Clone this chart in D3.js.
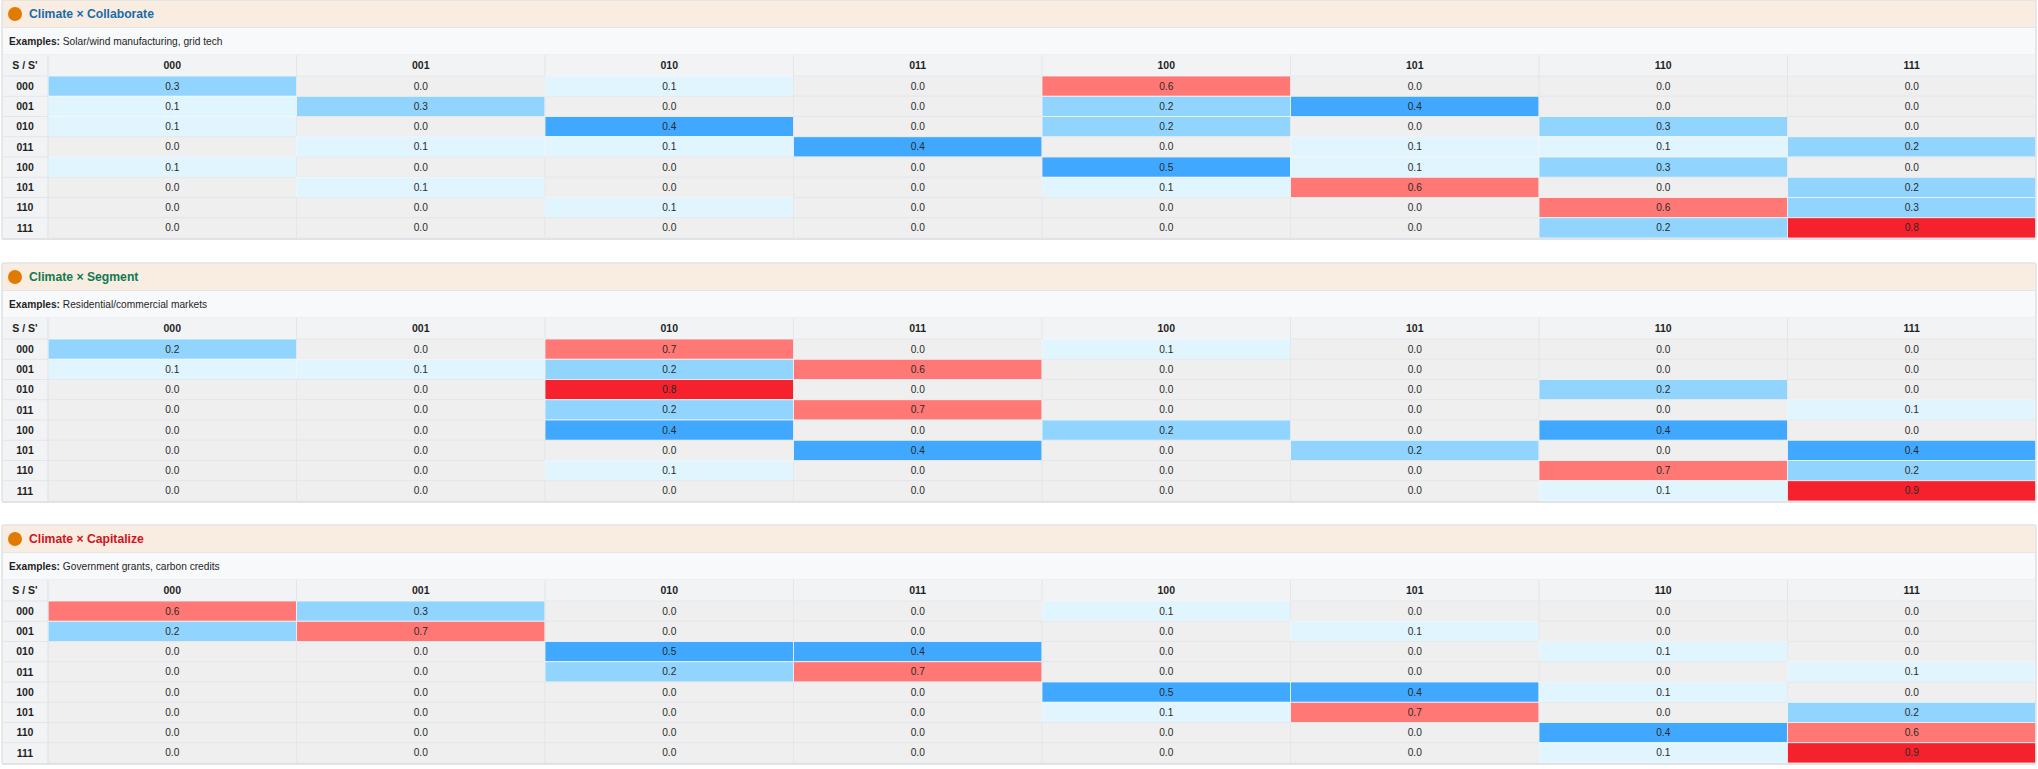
<!DOCTYPE html>
<html>
<head>
<meta charset="utf-8">
<script src="https://cdn.jsdelivr.net/npm/d3@7"></script>
<style>
  body { margin: 0; background: #fff; }
  svg { display: block; font-family: "Helvetica Neue", Helvetica, Arial, "Liberation Sans", sans-serif; }
</style>
</head>
<body>
<svg id="chart" width="2038" height="769"></svg>
<script>
// states (rows = S, columns = S')
const states = ["000", "001", "010", "011", "100", "101", "110", "111"];

const sectionTitles = ["Climate \u00d7 Collaborate", "Climate \u00d7 Segment", "Climate \u00d7 Capitalize"];
const titleColors = ["#1a6ca8", "#117a52", "#d3121c"];
const examples = ["Solar/wind manufacturing, grid tech", "Residential/commercial markets", "Government grants, carbon credits"];

const collaborate = [
  [0.3, 0.0, 0.1, 0.0, 0.6, 0.0, 0.0, 0.0],
  [0.1, 0.3, 0.0, 0.0, 0.2, 0.4, 0.0, 0.0],
  [0.1, 0.0, 0.4, 0.0, 0.2, 0.0, 0.3, 0.0],
  [0.0, 0.1, 0.1, 0.4, 0.0, 0.1, 0.1, 0.2],
  [0.1, 0.0, 0.0, 0.0, 0.5, 0.1, 0.3, 0.0],
  [0.0, 0.1, 0.0, 0.0, 0.1, 0.6, 0.0, 0.2],
  [0.0, 0.0, 0.1, 0.0, 0.0, 0.0, 0.6, 0.3],
  [0.0, 0.0, 0.0, 0.0, 0.0, 0.0, 0.2, 0.8]
];

const segment = [
  [0.2, 0.0, 0.7, 0.0, 0.1, 0.0, 0.0, 0.0],
  [0.1, 0.1, 0.2, 0.6, 0.0, 0.0, 0.0, 0.0],
  [0.0, 0.0, 0.8, 0.0, 0.0, 0.0, 0.2, 0.0],
  [0.0, 0.0, 0.2, 0.7, 0.0, 0.0, 0.0, 0.1],
  [0.0, 0.0, 0.4, 0.0, 0.2, 0.0, 0.4, 0.0],
  [0.0, 0.0, 0.0, 0.4, 0.0, 0.2, 0.0, 0.4],
  [0.0, 0.0, 0.1, 0.0, 0.0, 0.0, 0.7, 0.2],
  [0.0, 0.0, 0.0, 0.0, 0.0, 0.0, 0.1, 0.9]
];

const capitalize = [
  [0.6, 0.3, 0.0, 0.0, 0.1, 0.0, 0.0, 0.0],
  [0.2, 0.7, 0.0, 0.0, 0.0, 0.1, 0.0, 0.0],
  [0.0, 0.0, 0.5, 0.4, 0.0, 0.0, 0.1, 0.0],
  [0.0, 0.0, 0.2, 0.7, 0.0, 0.0, 0.0, 0.1],
  [0.0, 0.0, 0.0, 0.0, 0.5, 0.4, 0.1, 0.0],
  [0.0, 0.0, 0.0, 0.0, 0.1, 0.7, 0.0, 0.2],
  [0.0, 0.0, 0.0, 0.0, 0.0, 0.0, 0.4, 0.6],
  [0.0, 0.0, 0.0, 0.0, 0.0, 0.0, 0.1, 0.9]
];

const matrices = [collaborate, segment, capitalize];

// cell colour buckets
const color = d3.scaleThreshold()
  .domain([0.05, 0.15, 0.35, 0.55, 0.75])
  .range(["#efefef", "#e1f5fe", "#91d5ff", "#40a9ff", "#ff7875", "#f5222d"]);

const svg = d3.select("#chart");
const left = 2, right = 2036, labelW = 46;
const borderCol = "#e3e5e8";

const sectionY = d3.scaleBand().domain(d3.range(3)).range([0, 787.5]).paddingInner(0);
const x = d3.scaleBand().domain(states).range([left + labelW, right]);
const y = d3.scaleBand().domain(states).range([76, 238]);

matrices.forEach((m, i) => {
  const g = svg.append("g").attr("transform", `translate(0,${Math.round(sectionY(i))})`);

  // header band
  g.append("rect").attr("x", left).attr("y", 0).attr("width", right - left).attr("height", 27.5)
    .attr("fill", "#f9ede1");
  g.append("circle").attr("cx", 15).attr("cy", 14).attr("r", 7).attr("fill", "#e07b00");
  g.append("text").attr("x", 29).attr("y", 14).attr("dy", "0.35em")
    .attr("font-size", 12.2).attr("font-weight", "bold").attr("fill", titleColors[i])
    .text(sectionTitles[i]);

  // examples band
  g.append("rect").attr("x", left).attr("y", 27.5).attr("width", right - left).attr("height", 27.5)
    .attr("fill", "#f8f9fb").attr("stroke", borderCol);
  const ex = g.append("text").attr("x", 9).attr("y", 41.5).attr("dy", "0.35em")
    .attr("font-size", 10.2).attr("fill", "#1f1f1f");
  ex.append("tspan").attr("font-weight", "bold").text("Examples: ");
  ex.append("tspan").text(examples[i]);

  // table header row
  g.append("rect").attr("x", left).attr("y", 55).attr("width", right - left).attr("height", 21)
    .attr("fill", "#f2f3f5");
  g.append("rect").attr("x", left).attr("y", 76).attr("width", labelW).attr("height", 162)
    .attr("fill", "#f2f3f5");

  g.append("text").attr("x", left + labelW / 2).attr("y", 65.5).attr("dy", "0.35em")
    .attr("text-anchor", "middle").attr("font-size", 10.5).attr("font-weight", "bold").attr("fill", "#1f1f1f")
    .text("S / S'");

  g.selectAll(".colhead").data(states).join("text")
    .attr("x", d => x(d) + x.bandwidth() / 2).attr("y", 65.5).attr("dy", "0.35em")
    .attr("text-anchor", "middle").attr("font-size", 10.5).attr("font-weight", "bold").attr("fill", "#1f1f1f")
    .text(d => d);

  g.selectAll(".rowhead").data(states).join("text")
    .attr("x", left + labelW / 2).attr("y", d => y(d) + y.bandwidth() / 2).attr("dy", "0.35em")
    .attr("text-anchor", "middle").attr("font-size", 10.5).attr("font-weight", "bold").attr("fill", "#1f1f1f")
    .text(d => d);

  const cells = [];
  m.forEach((row, r) => row.forEach((v, c) => cells.push({ r: states[r], c: states[c], v })));

  g.selectAll(".cell").data(cells).join("rect")
    .attr("x", d => x(d.c)).attr("y", d => y(d.r))
    .attr("width", x.bandwidth()).attr("height", y.bandwidth())
    .attr("fill", d => color(d.v))
    .attr("stroke", d => d.v > 0.05 ? "#f4f6f8" : borderCol).attr("stroke-width", 0.8);

  g.selectAll(".val").data(cells).join("text")
    .attr("x", d => x(d.c) + x.bandwidth() / 2).attr("y", d => y(d.r) + y.bandwidth() / 2).attr("dy", "0.35em")
    .attr("text-anchor", "middle").attr("font-size", 10.2).attr("fill", "#2a2a2a")
    .text(d => d.v.toFixed(1));

  // grid lines in label/header area
  g.selectAll(".hl").data(states).join("line")
    .attr("x1", left).attr("x2", left + labelW)
    .attr("y1", d => y(d)).attr("y2", d => y(d))
    .attr("stroke", borderCol);
  g.append("line").attr("x1", left + labelW).attr("x2", left + labelW).attr("y1", 55).attr("y2", 238)
    .attr("stroke", borderCol);
  g.selectAll(".vl").data(states).join("line")
    .attr("x1", d => x(d)).attr("x2", d => x(d)).attr("y1", 55).attr("y2", 76)
    .attr("stroke", borderCol);

  // outer frame
  g.append("rect").attr("x", left).attr("y", 0).attr("width", right - left).attr("height", 239)
    .attr("fill", "none").attr("stroke", "#e1e3e7").attr("stroke-width", 1.5).attr("rx", 2);
  g.append("line").attr("x1", left).attr("x2", right).attr("y1", 239).attr("y2", 239)
    .attr("stroke", "#e1e3e7").attr("stroke-width", 2);
});
</script>
</body>
</html>
